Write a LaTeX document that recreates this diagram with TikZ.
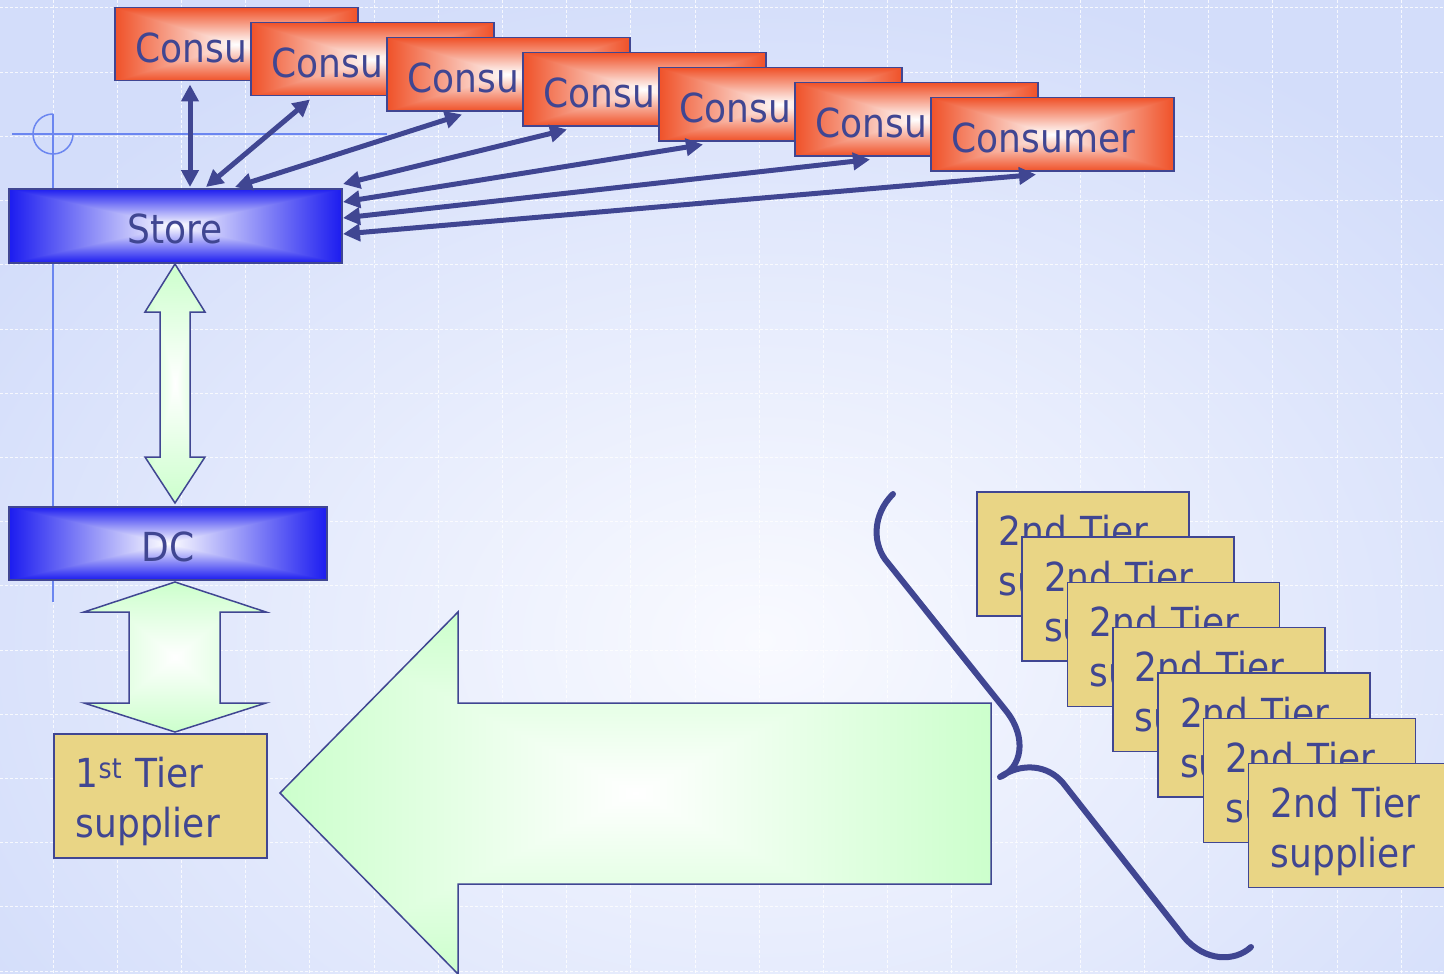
\documentclass[tikz,border=0pt]{standalone}
\usepackage{fontspec}
\setmainfont{DejaVu Sans Condensed}
\usetikzlibrary{arrows.meta,calc}
\definecolor{navy}{RGB}{64,70,146}
\definecolor{tan}{RGB}{233,213,133}
\definecolor{crossblue}{RGB}{107,134,240}
\definecolor{bgout}{RGB}{211,221,250}
\definecolor{bgin}{RGB}{249,250,255}
\pgfdeclarefunctionalshading{redrect}{\pgfpoint{-50bp}{-50bp}}{\pgfpoint{50bp}{50bp}}{}{
abs exch abs 2 copy lt {exch} if pop 25 div dup 1 gt {pop 1} if
dup 0.06 mul 1 exch sub exch dup 0.68 mul 1 exch sub exch 0.84 mul 1 exch sub}
\pgfdeclarefunctionalshading{bluerect}{\pgfpoint{-50bp}{-50bp}}{\pgfpoint{50bp}{50bp}}{}{
abs exch abs 2 copy lt {exch} if pop 25 div dup 1 gt {pop 1} if
dup 0.89 mul 1 exch sub exch dup 0.89 mul 1 exch sub exch 0.06 mul 1 exch sub}
\pgfdeclarefunctionalshading{greenrect}{\pgfpoint{-50bp}{-50bp}}{\pgfpoint{50bp}{50bp}}{}{
abs exch abs 2 copy lt {exch} if pop 25 div dup 1 gt {pop 1} if
dup 0.2 mul 1 exch sub exch dup 0.0 mul 1 exch sub exch 0.2 mul 1 exch sub}
\tikzset{
  box/.style={draw=navy, line width=1.5pt, inner sep=0pt, anchor=north west, text=navy,
    font=\fontsize{40}{50}\selectfont},
  consumer/.style={box, shade, shading=redrect, minimum width=243pt, minimum height=73pt,
    text width=201pt, align=left, text height=37pt, text depth=0pt},
  hub/.style={box, shade, shading=bluerect, minimum height=74pt, text height=36pt, text depth=0pt},
  tier/.style={box, fill=tan, minimum width=212pt, minimum height=124pt,
    text width=168pt, align=left, text height=54pt, text depth=70pt},
  conn/.style={navy, line width=5pt, {Triangle[length=17pt,width=17pt]}-{Triangle[length=17pt,width=17pt]}},
  blockarrow/.style={shade, shading=greenrect, draw=navy, line width=1.5pt, line join=miter},
  gridline/.style={white, line width=1pt, dash pattern=on 3pt off 2pt, opacity=0.8},
  crossline/.style={crossblue, line width=1.5pt},
}
\begin{document}
\begin{tikzpicture}[x=1pt,y=-1pt]
\useasboundingbox (0,0) rectangle (1444,974);
\clip (0,0) rectangle (1444,974);
% background
\fill[bgout] (0,0) rectangle (1444,974);
\shade[inner color=bgin, outer color=bgout] (760,640) ellipse [x radius=920, y radius=680];
% grid
\foreach \i in {0,...,21} \draw[gridline] ({53+64.2*\i},0) -- ({53+64.2*\i},974);
\foreach \j in {0,...,15} \draw[gridline] (0,{8+64.2*\j}) -- (1444,{8+64.2*\j});
% crosshair
\draw[crossline] (12,134) -- (387,134);
\draw[crossline] (53,114) -- (53,602);
\draw[crossline] (53,114) arc[start angle=-90, end angle=-360, radius=20];
% big left arrow
\path[blockarrow] (280,793) -- (458,612) -- (458,703) -- (991,703) -- (991,884) -- (458,884) -- (458,974) -- cycle;
% vertical double arrows
\path[blockarrow] (175,264) -- (205,312) -- (190,312) -- (190,457) -- (205,457) -- (175,503)
  -- (145,457) -- (160,457) -- (160,312) -- (145,312) -- cycle;
\path[blockarrow] (175,582) -- (266,612) -- (220,612) -- (220,703) -- (266,703) -- (175,732)
  -- (84,703) -- (129,703) -- (129,612) -- (84,612) -- cycle;
% store and DC
\node[hub, minimum width=333pt] (store) at (8,188) {Store};
\node[hub, minimum width=318pt, minimum height=73pt] (dc) at (8,506) {DC};
% first tier
\node[tier, minimum width=213pt, text width=169pt] (t1) at (53,733) {1\textsuperscript{st} Tier\\supplier};
% brace
\draw[navy, line width=6pt, line cap=round, line join=round]
  (893,494) .. controls (872,515) and (872,545) .. (888,563) -- (1007,712)
  .. controls (1027,738) and (1022,768) .. (1000,777)
  .. controls (1022,762) and (1048,765) .. (1063,783) -- (1184,937)
  .. controls (1205,962) and (1235,962) .. (1251,947);
% second tier
\foreach \i in {0,...,6}
  \node[tier] (s\i) at ({976+45.33*\i},{491+45.33*\i}) {2nd Tier\\supplier};
% consumers
\foreach \i in {0,...,6}
  \node[consumer] (c\i) at ({114+136*\i},{7+15*\i}) {Consumer};
% connectors
\foreach \i/\dx/\sx/\sy in {0/76/182/-1, 1/60/198/-1, 2/76/227/-1, 3/45/335/-4, 4/45/335/14, 5/76/335/30, 6/106/335/46}
  \draw[conn] ($(c\i.south west)+(\dx,3)$) -- ($(store.north west)+(\sx,\sy)$);
\end{tikzpicture}
\end{document}
